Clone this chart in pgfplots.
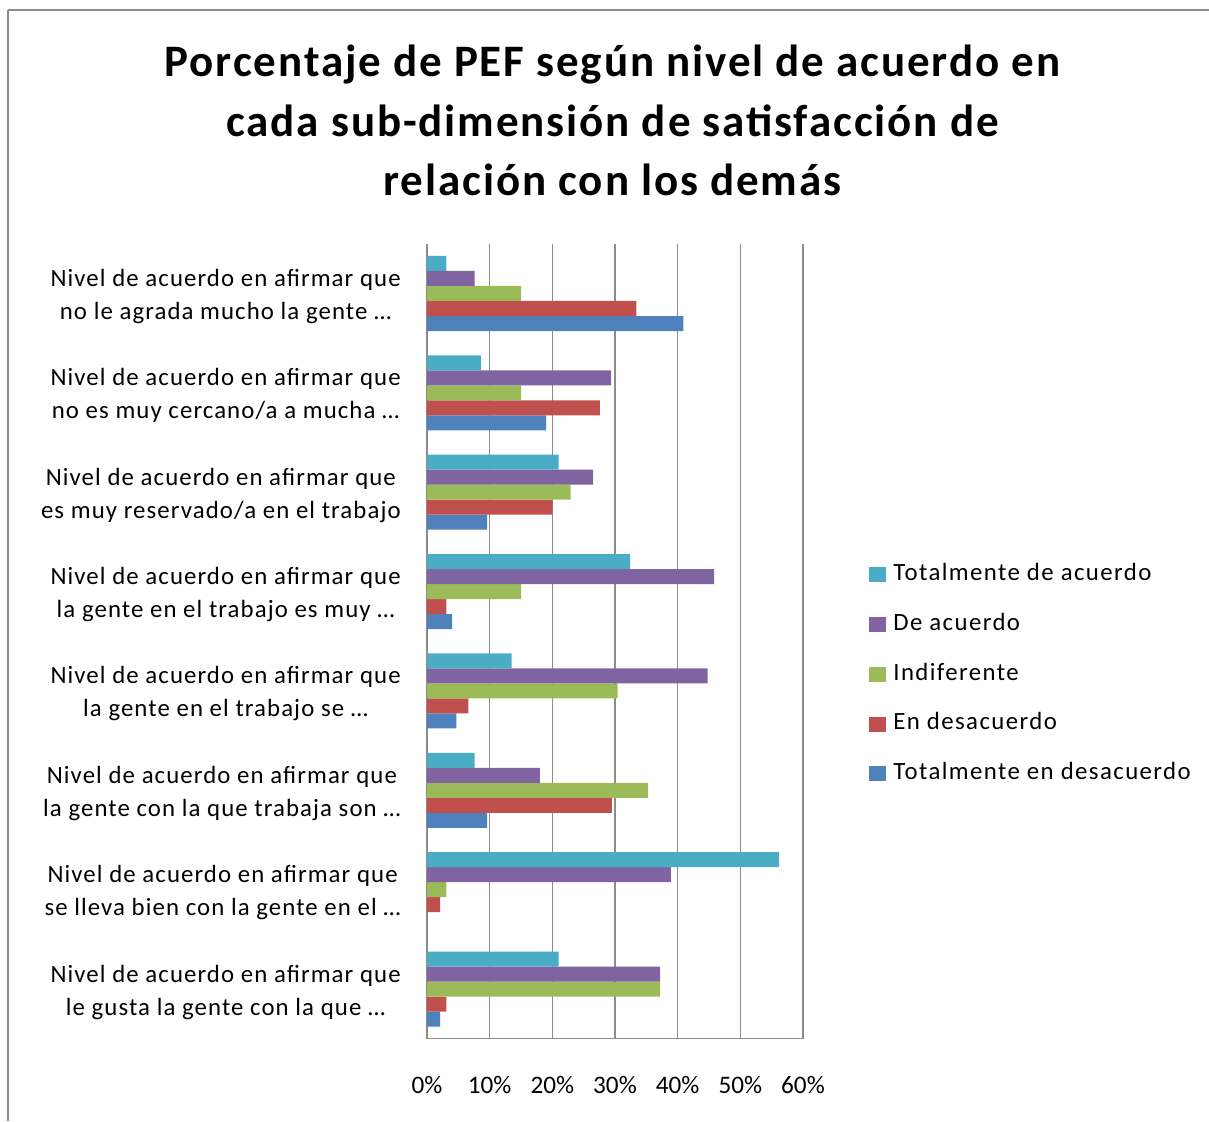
\documentclass[border=0pt]{standalone}
\usepackage{pgfplots}
\usepackage{pgfplotstable}
\pgfplotsset{compat=1.18}
\usepackage{fontspec}
\setmainfont{Carlito}
\newfontfamily\titlefam[LetterSpace=4.2]{Carlito}
\newfontfamily\lblfam[LetterSpace=4.4]{Carlito}
\newfontfamily\legfam[LetterSpace=5.7]{Carlito}
\definecolor{cBlue}{HTML}{4F81BD}
\definecolor{cRed}{HTML}{C0504D}
\definecolor{cGreen}{HTML}{9BBB59}
\definecolor{cPurple}{HTML}{8064A2}
\definecolor{cCyan}{HTML}{4BACC6}
\definecolor{gridgray}{HTML}{8C8C8C}
\pgfplotstableread{
y blue red green purple cyan
8 40.9 33.4 15.0 7.6 3.1
7 19.0 27.6 15.0 29.4 8.6
6 9.6 20.0 22.9 26.5 21.0
5 4.0 3.1 15.0 45.8 32.4
4 4.7 6.6 30.4 44.8 13.5
3 9.6 29.5 35.3 18.0 7.6
2 0 2.1 3.1 38.9 56.2
1 2.1 3.1 37.2 37.2 21.0
}\datatable
\newcommand{\lblfont}{\lblfam\fontsize{12.4}{16.5}\selectfont}
\newcommand{\legfont}{\legfam\fontsize{12.4}{16.5}\selectfont}
\newcommand{\tickfont}{\fontsize{12.6}{16.5}\selectfont}
\newcommand{\ttlfont}{\titlefam\fontsize{22.5}{30}\selectfont\bfseries}
\begin{document}
\begin{tikzpicture}
\path[use as bounding box] (0pt,0pt) rectangle (604.5pt,-560.5pt);
\draw[gridgray, line width=0.75pt] (4pt,-5pt) -- (604.5pt,-5pt);
\draw[gridgray, line width=0.75pt] (4pt,-5pt) -- (4pt,-560.5pt);
\node[anchor=base, font=\ttlfont] at (306.25pt,-38pt) {Porcentaje de PEF según nivel de acuerdo en};
\node[anchor=base, font=\ttlfont] at (306.25pt,-68pt) {cada sub-dimensión de satisfacción de};
\node[anchor=base, font=\ttlfont] at (306.25pt,-97.5pt) {relación con los demás};
\begin{axis}[
  at={(213.5pt,-519.35pt)}, anchor=origin,
  scale only axis, width=188pt, height=397.45pt,
  xbar, bar width=0.151,
  xmin=0, xmax=60, ymin=0.5, ymax=8.5,
  enlargelimits=false,
  axis lines*=left,
  axis line style={gridgray, line width=0.65pt},
  major tick length=0pt,
  xmajorgrids, grid style={gridgray, line width=0.65pt},
  xtick={0,10,20,30,40,50,60},
  xticklabels={0\%,10\%,20\%,30\%,40\%,50\%,60\%},
  xticklabel style={font=\tickfont, anchor=base, inner sep=0pt, yshift=-27.15pt},
  ytick={1,2,3,4,5,6,7,8},
  yticklabels={
    {Nivel de acuerdo en afirmar que\\le gusta la gente con la que …},
    {Nivel de acuerdo en afirmar que\\se lleva bien con la gente en el …},
    {Nivel de acuerdo en afirmar que\\la gente con la que trabaja son …},
    {Nivel de acuerdo en afirmar que\\la gente en el trabajo se …},
    {Nivel de acuerdo en afirmar que\\la gente en el trabajo es muy …},
    {Nivel de acuerdo en afirmar que\\es muy reservado/a en el trabajo},
    {Nivel de acuerdo en afirmar que\\no es muy cercano/a a mucha …},
    {Nivel de acuerdo en afirmar que\\no le agrada mucho la gente …}},
  yticklabel style={font=\lblfont, align=center, anchor=east, inner sep=0pt, xshift=-13pt, yshift=-1.5pt},
  reverse legend,
  legend image code/.code={\fill[#1] (0pt,-3.9pt) rectangle (8.5pt,3.6pt);},
  legend style={at={(1.1755,0.4588)}, anchor=west, draw=none, fill=none,
    inner sep=0pt, font=\legfont, row sep=12.9pt, column sep=3.5pt,
    nodes={inner sep=0pt, text height=9pt, text depth=3pt, anchor=west}},
  legend cell align=left,
]
\addplot[fill=cBlue, draw=none, bar shift=-0.302] table[x=blue, y=y] {\datatable};
\addlegendentry{Totalmente en desacuerdo}
\addplot[fill=cRed, draw=none, bar shift=-0.151] table[x=red, y=y] {\datatable};
\addlegendentry{En desacuerdo}
\addplot[fill=cGreen, draw=none, bar shift=0] table[x=green, y=y] {\datatable};
\addlegendentry{Indiferente}
\addplot[fill=cPurple, draw=none, bar shift=0.151] table[x=purple, y=y] {\datatable};
\addlegendentry{De acuerdo}
\addplot[fill=cCyan, draw=none, bar shift=0.302] table[x=cyan, y=y] {\datatable};
\addlegendentry{Totalmente de acuerdo}
\end{axis}
\end{tikzpicture}
\end{document}
